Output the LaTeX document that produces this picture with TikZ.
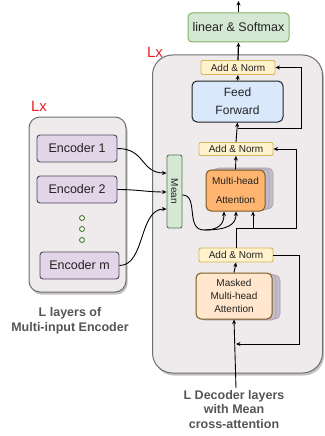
\documentclass[tikz,border=0pt]{standalone}
\usepackage{fontspec}
\setmainfont{Liberation Sans}
\usetikzlibrary{arrows.meta,calc,shadows}
\definecolor{boxfill}{HTML}{EFEBEC}
\definecolor{outerdraw}{HTML}{6E6E6E}
\definecolor{encfill}{HTML}{E1D5E7}
\definecolor{encdraw}{HTML}{4A4658}
\definecolor{greenfill}{HTML}{D5E8D4}
\definecolor{greendraw}{HTML}{82B366}
\definecolor{meandraw}{HTML}{4F7A4F}
\definecolor{anfill}{HTML}{FFF2CC}
\definecolor{andraw}{HTML}{D6B656}
\definecolor{fffill}{HTML}{DAE8FC}
\definecolor{mhafill}{HTML}{FFB570}
\definecolor{mhadraw}{HTML}{7A5A22}
\definecolor{mmfill}{HTML}{FFE6CC}
\definecolor{stackfill}{HTML}{C4BCC8}
\definecolor{stackdraw}{HTML}{A79FAC}
\definecolor{txt}{HTML}{222222}
\definecolor{lbl}{HTML}{555555}
\definecolor{lxred}{HTML}{E82020}
\definecolor{dotgreen}{HTML}{4E7A3A}
\begin{document}
\begin{tikzpicture}[x=1pt,y=-1pt,
  outer/.style={draw=outerdraw, fill=boxfill, line width=1pt,
    drop shadow={shadow xshift=1.5pt, shadow yshift=-2.5pt, fill=black!40, opacity=0.6}},
  encbox/.style={draw=encdraw, fill=encfill, rounded corners=3pt, line width=0.9pt,
    minimum height=27pt, inner sep=0pt, text=txt, font=\fontsize{12.5}{14}\selectfont},
  addn/.style={draw=andraw, fill=anfill, rounded corners=2pt, line width=0.9pt,
    minimum width=74pt, minimum height=14pt, inner sep=0pt, text=txt, font=\fontsize{10}{12}\selectfont},
  arr/.style={-{Stealth[length=4.5pt,width=4pt]}, line width=0.9pt},
  ln/.style={line width=0.9pt},
  stack/.style={draw=stackdraw, fill=stackfill, rounded corners=5pt, line width=0.6pt},
  lxlabel/.style={text=lxred, font=\fontsize{15}{17}\selectfont},
  caption/.style={text=lbl, align=center, font=\bfseries\fontsize{12.5}{15}\selectfont},
  dot/.style={circle, draw=dotgreen, fill=white, line width=0.9pt, minimum size=5pt, inner sep=0pt}]
\useasboundingbox (0,0) rectangle (324,436);

% outer boxes
\node[outer, rounded corners=11pt, minimum width=97pt, minimum height=175pt] (encouter) at (77.5,204.5) {};
\node[outer, rounded corners=20pt, minimum width=170pt, minimum height=318pt] (decouter) at (237.5,214) {};

\node[lxlabel] (lx1) at (39,106) {Lx};
\node[lxlabel] (lx2) at (155,52) {Lx};

% encoders
\node[encbox, minimum width=80pt] (enc1) at (77,148.5) {Encoder 1};
\node[encbox, minimum width=80pt] (enc2) at (77,189.5) {Encoder 2};
\node[encbox, minimum width=79pt] (encm) at (79.5,265.5) {Encoder m};
\node[dot] (d1) at (82,218) {};
\node[dot] (d2) at (82,229) {};
\node[dot] (d3) at (82,240) {};

\node[caption] (enccap) at (70,320.5) {L layers of\\Multi-input Encoder};

% mean
\node[draw=meandraw, fill=greenfill, rounded corners=2pt, line width=0.9pt,
  minimum width=15pt, minimum height=73pt, inner sep=0pt] (mean) at (174.5,191.5) {};
\node[rotate=-90, text=txt, font=\fontsize{10}{12}\selectfont] (meantxt) at (mean.center) {Mean};

% stacks behind attention blocks
\draw[stack] (214,168) rectangle (273,209);
\draw[stack] (210,169) rectangle (269,210);
\draw[stack] (204,275) rectangle (280,319);
\draw[stack] (200,274) rectangle (276,320);

% decoder blocks
\node[draw=greendraw, fill=greenfill, rounded corners=4pt, line width=1pt,
  minimum width=101pt, minimum height=29pt, inner sep=0pt, text=txt,
  font=\fontsize{12.5}{14}\selectfont] (lin) at (238.5,27.5) {linear \& Softmax};
\node[addn] (an3) at (238,67.5) {Add \& Norm};
\node[draw=txt, fill=fffill, rounded corners=5pt, line width=1pt,
  minimum width=91pt, minimum height=41pt, inner sep=0pt, text=txt, align=center,
  font=\fontsize{12}{18}\selectfont] (ff) at (237.5,101.5) {Feed\\Forward};
\node[addn, minimum height=13pt] (an2) at (236,149) {Add \& Norm};
\node[draw=mhadraw, fill=mhafill, rounded corners=5pt, line width=1pt,
  minimum width=59pt, minimum height=41pt, inner sep=0pt, text=txt, align=center,
  font=\fontsize{10}{19}\selectfont] (mha) at (235.5,190.5) {Multi-head\\Attention};
\node[addn] (an1) at (236,255) {Add \& Norm};
\node[draw=mhadraw, fill=mmfill, rounded corners=5pt, line width=1pt,
  minimum width=76pt, minimum height=46pt, inner sep=0pt, text=txt, align=center,
  font=\fontsize{10}{13}\selectfont] (mmha) at (234,296) {Masked\\Multi-head\\Attention};

\node[caption, font=\bfseries\fontsize{12.5}{14.5}\selectfont] (deccap) at (234,409.5) {L Decoder layers\\with Mean\\cross-attention};

% coordinates
\coordinate (out) at (238.5,1);
\coordinate (inp) at (236,388);
\coordinate (j3) at ($(ff.south)+(0,6)$);
\coordinate (j1) at ($(inp)+(0,-44)$);
\coordinate (m1) at ($(mean.west)+(0,-18.5)$);
\coordinate (m2) at ($(mean.west)+(0,0.5)$);
\coordinate (m3) at ($(mean.west)+(0,17.5)$);
\coordinate (mo) at ($(mean.east)+(0,3.5)$);
\coordinate (mj) at (204,230);
\coordinate (a1) at ($(mha.south)+(-11.5,0)$);
\coordinate (a2) at ($(mha.south)+(0.5,0)$);
\coordinate (a3) at ($(mha.south)+(17.5,0)$);

% encoder -> mean
\draw[arr] (enc1.east) .. controls +(28,0) and +(-26,0) .. (m1);
\draw[arr] (enc2.east) .. controls +(20,0) and +(-20,0) .. (m2);
\draw[arr] (encm.east) .. controls +(26,0) and +(-28,0) .. (m3);

% mean -> attention
\draw[ln] (mo) .. controls (199,195) and (185,230) .. (mj);
\draw[arr] (mj) .. controls (219,230) and (224,224) .. (a1);
\draw[arr] (mj) .. controls (229,230) and (236,224) .. (a2);

% decoder connectors
\draw[arr] (inp) -- (mmha.south);
\draw[arr] (mmha.north) -- (an1.south);
\draw[arr] (an1.east) -- ++(26,0) |- (j1);
\draw[arr] (an1.north) |- (296,228) |- (an2.east);
\draw[arr] (a3 |- 0,228) -- (a3);
\draw[arr] (mha.north) -- (an2.south);
\draw[arr] (an2.north) -- (ff.south);
\draw[arr] (j3) -- ++(64,0) |- (an3.east);
\draw[arr] (ff.north) -- (an3.south);
\draw[arr, line width=1.2pt] (an3.north) -- (lin.south);
\draw[arr] (lin.north) -- (out);
\end{tikzpicture}
\end{document}
